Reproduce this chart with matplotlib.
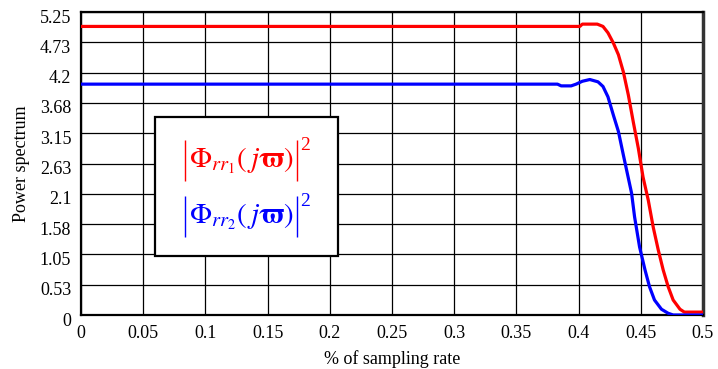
import matplotlib
matplotlib.use("Agg")
import matplotlib.pyplot as plt
from matplotlib.patches import Rectangle
from matplotlib.transforms import ScaledTranslation

plt.rcParams['font.family'] = ['Liberation Serif', 'DejaVu Serif']
plt.rcParams['mathtext.fontset'] = 'stix'

# red curve |Phi_rr1|^2
red_x = [0.0, 0.401, 0.403, 0.415, 0.4196, 0.4236, 0.428, 0.432, 0.436, 0.440, 0.444,
         0.448, 0.4518, 0.456, 0.46, 0.464, 0.468, 0.472, 0.476, 0.4815, 0.485, 0.5]
red_y = [5.0, 5.0, 5.04, 5.04, 5.0, 4.89, 4.71, 4.51, 4.21, 3.81, 3.34,
         2.89, 2.39, 1.99, 1.52, 1.13, 0.78, 0.49, 0.26, 0.10, 0.05, 0.05]

# blue curve |Phi_rr2|^2
blue_x = [0.0, 0.383, 0.386, 0.394, 0.398, 0.403, 0.409, 0.4156, 0.4196, 0.4236, 0.428,
          0.432, 0.436, 0.4386, 0.4426, 0.445, 0.449, 0.4534, 0.457, 0.461, 0.4666,
          0.472, 0.476, 0.5]
blue_y = [4.0, 4.0, 3.97, 3.97, 4.0, 4.05, 4.08, 4.04, 3.96, 3.78, 3.46,
          3.18, 2.77, 2.51, 2.11, 1.70, 1.18, 0.78, 0.49, 0.26, 0.10,
          0.03, 0.0, 0.0]

x_ticks = [0, 0.05, 0.1, 0.15, 0.2, 0.25, 0.3, 0.35, 0.4, 0.45, 0.5]
x_labels = ['0', '0.05', '0.1', '0.15', '0.2', '0.25', '0.3', '0.35', '0.4', '0.45', '0.5']
y_ticks = [0, 0.525, 1.05, 1.575, 2.1, 2.625, 3.15, 3.675, 4.2, 4.725, 5.25]
y_labels = ['0', '0.53', '1.05', '1.58', '2.1', '2.63', '3.15', '3.68', '4.2', '4.73', '5.25']

legend_items = [(r'$\Phi_{rr_1}(\,j\boldsymbol{\varpi})$', '#ff0000', 0.51),
                (r'$\Phi_{rr_2}(\,j\boldsymbol{\varpi})$', '#0000ff', 0.325)]

fig = plt.figure(figsize=(7.18, 3.69), dpi=100)
ax = fig.add_axes([81 / 718, 1 - 315 / 369, 622 / 718, 303 / 369])

ax.plot(red_x, red_y, color='#ff0000', lw=2.3, zorder=3)
ax.plot(blue_x, blue_y, color='#0000ff', lw=2.3, zorder=3)

ax.set_xlim(0, 0.5)
ax.set_ylim(0, 5.25)
ax.set_xticks(x_ticks)
ax.set_xticklabels(x_labels)
ax.set_yticks(y_ticks)
ax.set_yticklabels(y_labels)
ax.tick_params(length=0, labelsize=13)
ax.tick_params(axis='x', pad=7)
ax.tick_params(axis='y', pad=7)
off = ScaledTranslation(0, -4 / 100, fig.dpi_scale_trans)
for lab in ax.get_yticklabels():
    lab.set_transform(lab.get_transform() + off)
ax.grid(True, color='black', lw=0.9)
for s in ax.spines.values():
    s.set_linewidth(1.6)
    s.set_color('black')
ax.spines['right'].set_color('#333333')
ax.spines['right'].set_linewidth(2.5)

ax.set_xlabel('% of sampling rate', fontsize=13, labelpad=6)
ax.set_ylabel('Power spectrum', fontsize=13, labelpad=7)

# legend box
ax.add_patch(Rectangle((0.119, 0.195), 0.294, 0.458, transform=ax.transAxes,
                       facecolor='white', edgecolor='black', lw=1.6, zorder=4))
fig.canvas.draw()
renderer = fig.canvas.get_renderer()
for txt, col, yc in legend_items:
    mid = ax.text(0.258, yc, txt, transform=ax.transAxes, color=col, fontsize=21,
                  ha='center', va='center', zorder=5)
    bb = mid.get_window_extent(renderer).transformed(ax.transAxes.inverted())
    ax.plot([bb.x0 - 0.006, bb.x0 - 0.006], [yc - 0.068, yc + 0.068], color=col,
            lw=1.0, transform=ax.transAxes, zorder=5, solid_capstyle='butt')
    ax.plot([bb.x1 + 0.005, bb.x1 + 0.005], [yc - 0.068, yc + 0.068], color=col,
            lw=1.0, transform=ax.transAxes, zorder=5, solid_capstyle='butt')
    ax.text(bb.x1 + 0.011, yc + 0.05, '2', transform=ax.transAxes, color=col,
            fontsize=14, ha='left', va='center', zorder=5)

fig.savefig('out.png', dpi=100)
